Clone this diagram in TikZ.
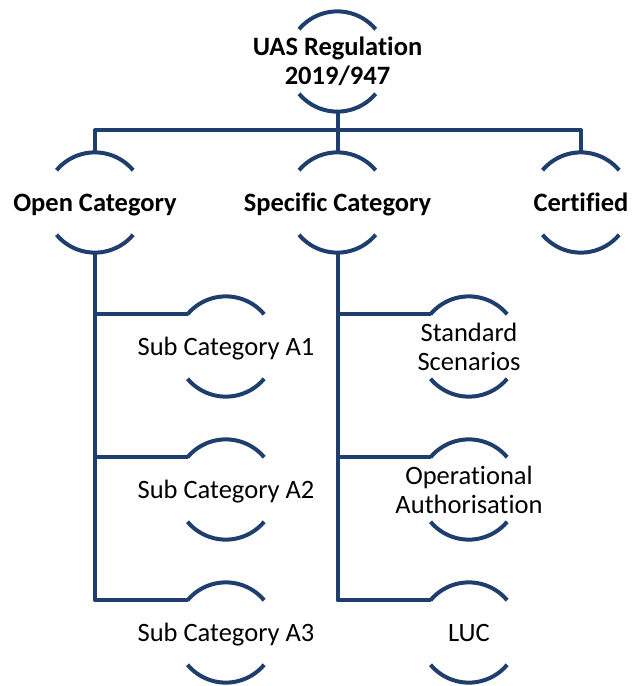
\documentclass[tikz,border=0pt]{standalone}
\usepackage{fontspec}
\setmainfont{Carlito}[Ligatures=NoCommon]
\definecolor{linecol}{RGB}{30,63,110}
\newcommand\ringarcs[1]{%
  \draw[arcline] (#1.140) arc (140:40:50);
  \draw[arcline] (#1.220) arc (220:320:50);
}
\newcommand\ringentry[4]{%
  \node[ring] (#1) at (#2) {};
  \node[#3] (#1-t) at (#2) {#4};
}
\begin{document}
\begin{tikzpicture}[x=1pt,y=1pt,
  arcline/.style={draw=linecol,line width=4pt,line cap=butt},
  conn/.style={draw=linecol,line width=4pt,line join=round},
  ring/.style={circle,minimum size=100pt,inner sep=0pt},
  txt/.style={inner sep=0pt,align=center,font=\fontsize{26.5}{29}\selectfont},
  boldtxt/.style={txt,font=\fontsize{26.5}{29}\selectfont\bfseries},
  oneline/.style={anchor=base,yshift=-8.5pt}]
\useasboundingbox (0,0) rectangle (632,-686);
\ringentry{top}{337.5,-61.5}{boldtxt}{UAS Regulation\\2019/947}
\ringentry{open}{95,-202.5}{boldtxt,oneline}{Open Category}
\ringentry{spec}{337.5,-202.5}{boldtxt,oneline}{Specific Category}
\ringentry{cert}{581,-202.5}{boldtxt,oneline}{Certified}
\ringentry{a1}{226,-346.5}{txt,oneline}{Sub Category A1}
\ringentry{a2}{226,-489.5}{txt,oneline}{Sub Category A2}
\ringentry{a3}{226,-632.5}{txt,oneline}{Sub Category A3}
\ringentry{s1}{469,-346.5}{txt}{Standard\\Scenarios}
\ringentry{s2}{469,-489.5}{txt}{Operational\\Authorisation}
\ringentry{s3}{469,-632.5}{txt,oneline}{LUC}
\foreach \n in {top,open,spec,cert,a1,a2,a3,s1,s2,s3} {\ringarcs{\n}}
\coordinate (bus) at (337.5,-130);
\draw[conn] (top.south) -- (bus);
\draw[conn] (open.north) -- (open.north |- bus) -- (cert.north |- bus) -- (cert.north);
\draw[conn] (spec.north) -- (spec.north |- bus);
\draw[conn] (open.south) |- (a1.140);
\draw[conn] (open.south) |- (a2.140);
\draw[conn] (open.south) |- (a3.140);
\draw[conn] (spec.south) |- (s1.140);
\draw[conn] (spec.south) |- (s2.140);
\draw[conn] (spec.south) |- (s3.140);
\end{tikzpicture}
\end{document}
